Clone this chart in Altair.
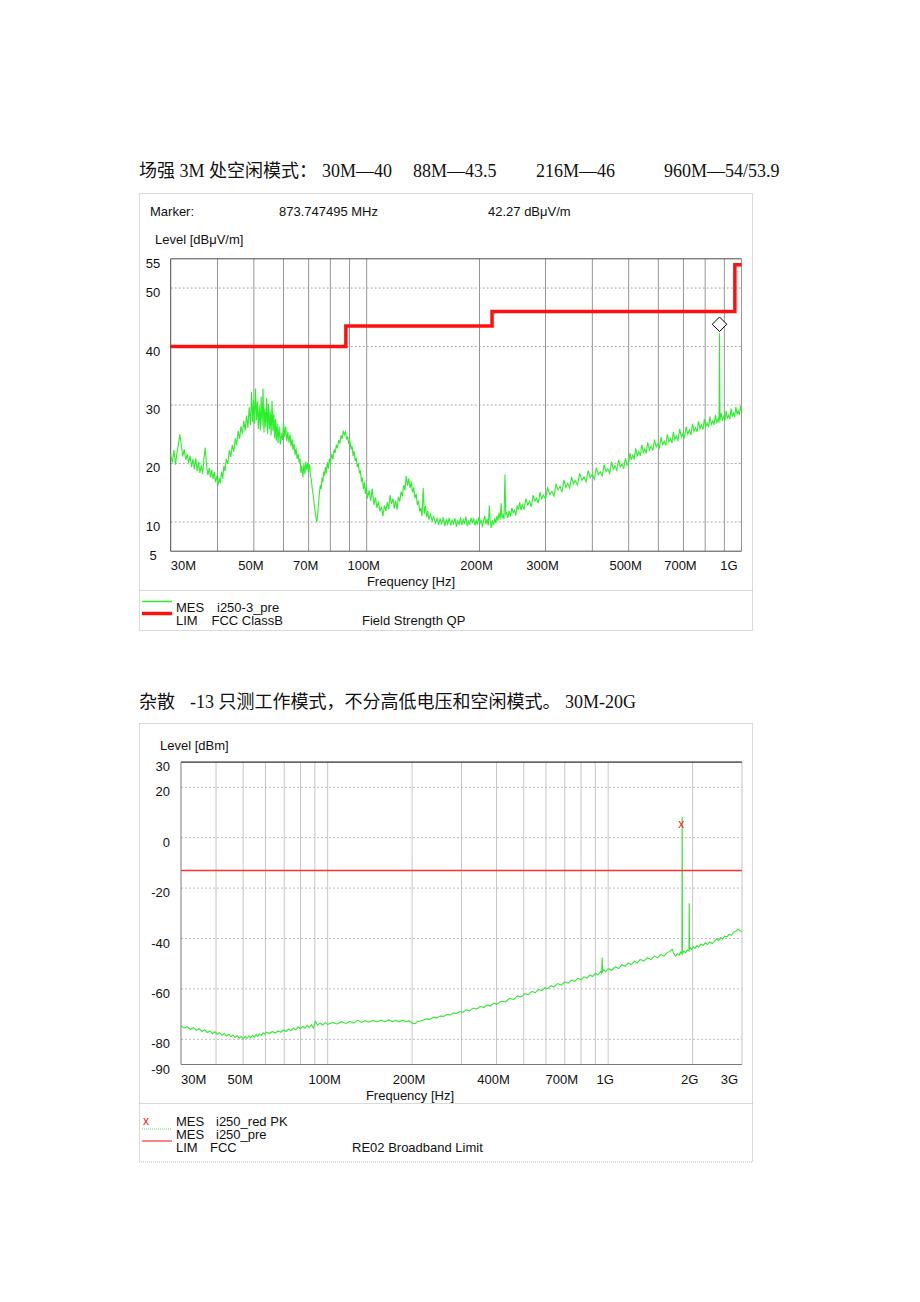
import altair as alt
import pandas as pd

# ------------------------------------------------------------------ data: chart 1 (field strength, dBuV/m)
trace1_points = [
    (30.0, 21.5), (30.3, 20.2), (30.6, 22.3), (30.9, 19.8), (31.2, 22.0), (31.5, 23.4), (31.7, 25.0),
    (32.0, 23.3), (32.3, 21.2), (32.6, 22.4), (32.9, 20.6), (33.2, 21.6), (33.5, 20.1), (33.8, 21.3),
    (34.1, 19.4), (34.4, 20.8), (34.7, 19.0), (35.0, 20.9), (35.3, 18.7), (35.6, 20.3), (35.9, 18.4),
    (36.2, 19.7), (36.5, 18.2), (36.8, 20.9), (37.1, 22.7), (37.4, 19.6), (37.7, 18.0), (38.0, 19.2),
    (38.3, 17.6), (38.6, 18.9), (38.9, 17.3), (39.2, 18.6), (39.5, 16.8), (39.8, 17.9), (40.1, 16.2),
    (40.4, 17.5), (40.7, 16.6), (41.0, 18.6), (41.3, 17.4), (41.6, 19.6), (41.9, 18.7), (42.2, 20.8),
    (42.6, 19.9), (43.0, 22.3), (43.4, 21.1), (43.8, 23.2), (44.2, 22.0), (44.6, 24.3), (45.0, 23.1),
    (45.4, 25.6), (45.8, 24.2), (46.2, 26.4), (46.6, 25.0), (47.0, 27.3), (47.4, 25.6), (47.8, 28.2),
    (48.2, 26.1), (48.6, 29.6), (49.0, 26.6), (49.3, 32.2), (49.6, 27.1), (49.9, 30.9), (50.2, 26.8),
    (50.5, 32.8), (50.8, 27.4), (51.1, 30.6), (51.4, 25.9), (51.7, 29.8), (52.0, 25.6), (52.3, 31.4),
    (52.6, 26.5), (52.9, 32.8), (53.2, 25.3), (53.5, 29.4), (53.8, 26.2), (54.1, 31.2), (54.4, 25.1),
    (54.7, 30.2), (55.0, 25.8), (55.3, 28.9), (55.6, 24.8), (55.9, 30.7), (56.2, 25.6), (56.5, 28.4),
    (56.8, 24.3), (57.1, 27.6), (57.4, 23.9), (57.7, 26.8), (58.0, 23.5), (58.4, 26.3), (58.8, 23.2),
    (59.2, 25.2), (59.6, 24.0), (60.0, 27.0), (60.4, 24.6), (60.8, 26.3), (61.2, 23.8), (61.6, 25.4),
    (62.0, 23.6), (62.4, 25.0), (62.8, 22.9), (63.2, 24.2), (63.6, 22.3), (64.0, 23.4), (64.4, 21.4),
    (64.8, 22.6), (65.2, 20.8), (65.6, 21.6), (66.0, 20.2), (66.4, 20.8), (66.8, 18.4), (67.2, 19.6),
    (67.6, 17.6), (68.0, 19.9), (68.4, 18.2), (68.8, 20.3), (69.2, 18.9), (69.6, 20.1), (70.0, 18.6),
    (70.4, 19.8), (70.8, 17.9), (71.2, 17.2), (71.6, 15.6), (72.0, 14.6), (72.4, 13.2), (72.8, 12.0),
    (73.2, 10.8), (73.6, 10.0), (74.0, 11.2), (74.4, 13.1), (74.8, 15.0), (75.2, 16.3), (75.6, 15.6),
    (76.0, 17.6), (76.4, 16.8), (76.8, 18.6), (77.2, 17.9), (77.6, 19.4), (78.0, 18.3), (78.5, 20.2),
    (79.0, 19.1), (79.5, 20.8), (80.0, 20.0), (80.6, 21.6), (81.2, 20.7), (81.8, 22.4), (82.4, 21.8),
    (83.0, 23.2), (83.6, 22.6), (84.2, 24.0), (84.8, 23.4), (85.4, 24.8), (86.0, 24.2), (86.6, 25.6),
    (87.2, 24.9), (87.8, 25.4), (88.4, 24.1), (89.0, 24.6), (89.6, 23.3), (90.2, 23.9), (90.8, 22.4),
    (91.4, 23.0), (92.0, 21.3), (92.6, 22.1), (93.2, 20.4), (93.8, 21.0), (94.4, 19.4), (95.0, 20.0),
    (95.6, 18.3), (96.2, 18.8), (96.8, 16.9), (97.4, 17.6), (98.0, 15.6), (98.6, 16.8), (99.2, 14.8),
    (99.8, 16.0), (100.5, 14.0), (101.5, 15.4), (102.5, 13.6), (103.5, 15.7), (104.5, 12.9), (105.5, 14.2),
    (106.5, 12.4), (107.5, 13.5), (108.5, 11.8), (109.5, 12.6), (110.5, 11.0), (111.5, 12.8), (112.5, 11.9),
    (113.5, 13.4), (114.5, 12.2), (115.5, 14.6), (116.5, 13.1), (117.5, 14.0), (118.5, 12.3), (119.5, 13.6),
    (120.5, 12.1), (121.5, 14.3), (122.5, 13.5), (123.5, 15.2), (124.5, 14.4), (125.5, 16.3), (126.5, 15.4),
    (127.5, 17.9), (128.5, 16.2), (129.5, 17.4), (130.5, 15.8), (131.5, 16.9), (132.5, 15.0), (133.5, 15.9),
    (134.5, 14.1), (135.5, 14.8), (136.5, 12.9), (137.5, 13.6), (138.5, 11.8), (139.5, 12.4), (140.5, 11.0),
    (141.5, 15.8), (142.5, 11.4), (143.5, 12.7), (144.5, 10.8), (145.5, 11.9), (146.5, 10.4), (148.0, 11.3),
    (149.5, 10.2), (151.0, 10.9), (152.5, 9.8), (154.0, 10.6), (155.5, 9.5), (157.0, 10.5), (158.5, 9.7),
    (160.0, 10.8), (161.5, 9.3), (163.0, 10.4), (164.5, 9.6), (166.0, 10.7), (167.5, 9.4), (169.0, 10.3),
    (170.5, 9.7), (172.0, 10.6), (173.5, 9.2), (175.0, 10.2), (176.5, 9.6), (178.0, 10.8), (179.5, 9.5),
    (181.0, 10.4), (182.5, 9.8), (184.0, 10.9), (185.5, 9.3), (187.0, 10.1), (188.5, 9.6), (190.0, 10.7),
    (191.5, 9.9), (193.0, 10.5), (194.5, 9.4), (196.0, 10.3), (197.5, 9.6), (199.0, 10.8), (200.5, 9.7),
    (202.0, 10.4), (203.5, 9.1), (205.0, 10.2), (206.5, 11.1), (208.0, 9.6), (209.5, 10.5), (211.0, 9.4),
    (212.5, 12.8), (213.5, 10.1), (215.0, 9.0), (216.5, 10.3), (218.0, 9.5), (219.5, 10.6), (221.0, 9.8),
    (222.5, 11.0), (224.0, 10.2), (225.5, 11.6), (227.0, 10.4), (228.5, 13.2), (229.5, 10.6), (231.0, 11.2),
    (232.5, 10.5), (233.8, 18.1), (235.0, 11.3), (236.5, 11.6), (238.0, 10.7), (240.0, 11.9), (242.0, 10.9),
    (244.0, 12.4), (246.0, 11.6), (248.0, 12.0), (250.0, 11.1), (252.0, 12.8), (254.0, 12.1), (256.0, 13.4),
    (258.0, 12.0), (260.0, 12.9), (263.0, 12.2), (266.0, 14.0), (269.0, 12.9), (272.0, 13.5), (275.0, 12.6),
    (278.0, 14.6), (281.0, 13.6), (284.0, 14.1), (287.0, 13.2), (290.0, 15.1), (293.0, 14.0), (296.0, 14.6),
    (300.0, 13.9), (304.0, 15.8), (308.0, 14.7), (312.0, 15.2), (316.0, 14.4), (320.0, 16.4), (324.0, 15.5),
    (328.0, 16.1), (332.0, 15.1), (336.0, 17.2), (340.0, 15.9), (344.0, 16.6), (348.0, 15.8), (352.0, 17.7),
    (356.0, 16.5), (360.0, 17.1), (365.0, 16.3), (370.0, 18.3), (375.0, 17.1), (380.0, 17.7), (385.0, 16.9),
    (390.0, 18.8), (395.0, 17.6), (400.0, 18.2), (405.0, 17.3), (410.0, 19.3), (415.0, 18.1), (420.0, 18.6),
    (425.0, 17.9), (430.0, 19.8), (435.0, 18.6), (440.0, 19.1), (445.0, 18.3), (450.0, 20.3), (455.0, 19.0),
    (460.0, 19.6), (465.0, 18.8), (470.0, 20.6), (475.0, 19.4), (480.0, 19.9), (485.0, 19.1), (490.0, 20.9),
    (495.0, 19.7), (500.0, 20.2), (504.0, 21.8), (508.0, 20.6), (512.0, 21.4), (517.0, 20.8), (522.0, 22.6),
    (527.0, 21.2), (532.0, 22.0), (537.0, 21.3), (542.0, 23.2), (547.0, 21.9), (552.0, 22.5), (557.0, 21.7),
    (562.0, 23.6), (568.0, 22.3), (574.0, 23.0), (580.0, 22.2), (586.0, 24.1), (592.0, 22.8), (598.0, 23.4),
    (604.0, 22.7), (610.0, 24.5), (616.0, 23.2), (622.0, 23.8), (628.0, 23.1), (634.0, 25.0), (640.0, 23.7),
    (646.0, 24.3), (652.0, 23.5), (658.0, 25.4), (664.0, 24.1), (670.0, 24.7), (677.0, 24.0), (684.0, 25.9),
    (691.0, 24.5), (698.0, 25.1), (705.0, 24.5), (712.0, 26.3), (719.0, 25.0), (726.0, 25.7), (733.0, 24.9),
    (740.0, 26.8), (747.0, 25.5), (754.0, 26.1), (761.0, 25.4), (768.0, 27.2), (775.0, 25.9), (782.0, 26.6),
    (789.0, 25.8), (796.0, 27.6), (803.0, 26.3), (810.0, 26.9), (817.0, 26.2), (824.0, 28.0), (831.0, 26.7),
    (838.0, 27.3), (845.0, 26.6), (852.0, 28.3), (859.0, 27.0), (866.0, 27.6), (871.0, 27.0), (873.7, 42.27),
    (876.0, 27.4), (882.0, 28.6), (889.0, 27.3), (896.0, 28.0), (903.0, 27.3), (910.0, 29.0), (917.0, 27.7),
    (924.0, 28.3), (931.0, 27.6), (938.0, 29.4), (945.0, 28.0), (952.0, 28.6), (959.0, 27.9), (966.0, 29.7),
    (973.0, 28.4), (980.0, 29.0), (987.0, 28.3), (994.0, 29.8), (1000.0, 29.0),
]
limit1_freq = [30, 88, 216, 960, 1000]
limit1_level = [40, 43.5, 46, 54, 54]
marker1_freq = [873.747495]
marker1_level = [42.27]
x1_tick_values = [30, 50, 70, 100, 200, 300, 500, 700, 1000]
x1_tick_labels = ["30M", "50M", "70M", "100M", "200M", "300M", "500M", "700M", "1G"]
x1_grid = [40, 50, 60, 70, 80, 90, 100, 200, 300, 400, 500, 600, 700, 800, 900]
y1_tick_values = [5, 10, 20, 30, 40, 50, 55]
y1_grid = [10, 20, 30, 40, 50]

# ------------------------------------------------------------------ data: chart 2 (spurious, dBm)
trace2_points = [
    (30.0, -74.6), (30.8, -75.6), (31.6, -75.0), (32.4, -76.1), (33.2, -75.4), (34.0, -76.4), (34.8, -75.8),
    (35.6, -76.9), (36.4, -76.2), (37.2, -77.3), (38.0, -76.7), (38.8, -77.7), (39.6, -77.0), (40.4, -78.0),
    (41.2, -77.4), (42.0, -78.4), (42.8, -77.7), (43.6, -78.7), (44.4, -78.0), (45.2, -79.0), (46.0, -78.3),
    (46.8, -79.3), (47.6, -78.5), (48.4, -79.6), (49.2, -78.8), (50.0, -79.8), (50.8, -78.9), (51.6, -79.6),
    (52.4, -78.7), (53.2, -79.4), (54.0, -78.4), (54.8, -79.1), (55.6, -78.1), (56.4, -78.8), (57.2, -77.8),
    (58.0, -78.5), (58.8, -77.4), (59.6, -78.0), (60.5, -77.2), (62.0, -77.7), (63.5, -76.9), (65.0, -77.5),
    (66.5, -76.7), (68.0, -77.2), (69.5, -76.3), (71.0, -76.9), (72.5, -75.9), (74.0, -76.6), (75.5, -75.6),
    (77.0, -76.2), (78.5, -75.1), (80.0, -75.8), (81.5, -74.9), (83.0, -75.6), (84.5, -74.5), (86.0, -75.4),
    (87.5, -74.2), (89.0, -75.6), (90.5, -72.8), (92.0, -74.4), (94.0, -73.6), (96.0, -74.3), (98.0, -73.4),
    (100.0, -74.1), (104.0, -73.3), (108.0, -73.9), (112.0, -73.0), (116.0, -73.7), (120.0, -72.9), (124.0, -73.6),
    (128.0, -72.4), (132.0, -73.3), (136.0, -72.6), (140.0, -73.2), (145.0, -72.5), (150.0, -73.1), (155.0, -72.4),
    (160.0, -73.0), (165.0, -72.3), (170.0, -73.0), (175.0, -72.5), (180.0, -73.1), (185.0, -72.4), (190.0, -73.0),
    (195.0, -72.6), (200.0, -73.5), (205.0, -73.8), (210.0, -72.9), (217.0, -72.6), (224.0, -71.9), (231.0, -72.1),
    (238.0, -71.3), (245.0, -71.5), (252.0, -70.8), (259.0, -70.9), (266.0, -70.2), (273.0, -70.3), (280.0, -69.6),
    (288.0, -69.7), (296.0, -69.0), (304.0, -69.3), (312.0, -68.2), (320.0, -68.7), (330.0, -67.6), (340.0, -68.0),
    (350.0, -66.9), (360.0, -67.4), (370.0, -66.3), (380.0, -66.8), (390.0, -65.7), (400.0, -66.1), (415.0, -64.9),
    (430.0, -65.2), (445.0, -63.8), (460.0, -64.2), (475.0, -62.8), (490.0, -63.2), (505.0, -61.9), (520.0, -62.3),
    (535.0, -61.0), (550.0, -61.5), (565.0, -60.2), (580.0, -60.7), (595.0, -59.5), (610.0, -59.9), (625.0, -58.7),
    (640.0, -59.2), (660.0, -57.9), (680.0, -58.5), (700.0, -57.2), (720.0, -57.7), (740.0, -56.5), (760.0, -57.0),
    (780.0, -55.8), (800.0, -56.4), (820.0, -55.2), (840.0, -55.8), (860.0, -54.5), (880.0, -55.1), (900.0, -53.9),
    (920.0, -54.4), (940.0, -53.1), (948.0, -53.8), (952.0, -47.5), (956.0, -53.1), (965.0, -52.4), (980.0, -53.2),
    (1000.0, -52.0), (1030.0, -52.6), (1060.0, -51.2), (1090.0, -51.9), (1120.0, -50.4), (1150.0, -51.0),
    (1180.0, -49.7), (1210.0, -50.4), (1240.0, -49.0), (1270.0, -49.7), (1300.0, -48.3), (1340.0, -49.0),
    (1380.0, -47.6), (1420.0, -48.4), (1460.0, -47.0), (1500.0, -47.7), (1540.0, -46.3), (1580.0, -47.1),
    (1620.0, -45.7), (1660.0, -45.0), (1690.0, -44.2), (1715.0, -46.0), (1740.0, -47.0), (1765.0, -46.0),
    (1790.0, -46.6), (1815.0, -45.4), (1832.0, -46.1), (1836.0, 8.2), (1840.0, -45.9), (1865.0, -45.0),
    (1890.0, -45.7), (1915.0, -44.6), (1941.0, -45.0), (1945.0, -26.0), (1949.0, -44.3), (1965.0, -43.7),
    (1985.0, -44.4), (2010.0, -43.3), (2040.0, -43.9), (2070.0, -42.8), (2100.0, -43.4), (2140.0, -42.2),
    (2180.0, -42.8), (2220.0, -41.7), (2260.0, -42.4), (2300.0, -41.4), (2350.0, -42.0), (2400.0, -40.9),
    (2440.0, -40.1), (2480.0, -40.8), (2520.0, -39.6), (2560.0, -40.2), (2600.0, -39.1), (2650.0, -39.4),
    (2700.0, -38.4), (2750.0, -38.7), (2800.0, -37.5), (2850.0, -37.2), (2900.0, -36.2), (2950.0, -36.9),
    (3000.0, -37.3),
]
limit2_freq = [30, 3000]
limit2_level = [-13, -13]
marker2_freq = [1822]
marker2_level = [5.5]
x2_tick_values = [30, 50, 100, 200, 400, 700, 1000, 2000, 3000]
x2_tick_labels = ["30M", "50M", "100M", "200M", "400M", "700M", "1G", "2G", "3G"]
x2_grid = [40, 50, 60, 70, 80, 90, 100, 200, 300, 400, 500, 600, 700, 800, 900, 1000, 2000]
y2_tick_values = [30, 20, 0, -20, -40, -60, -80, -90]
y2_grid = [20, 0, -20, -40, -60, -80]

# ------------------------------------------------------------------ style / layout
SANS = "'Liberation Sans', Arial, sans-serif"
SERIF = "'Liberation Serif', 'Noto Sans CJK SC', serif"
GREEN = "#2cee2c"
GREEN2 = "#33e633"
RED = "#ff1010"
ONE = pd.DataFrame({"k": [0]})

# plot areas in page pixels
P1 = dict(l=170.7, r=741.5, b=551.2, t=258.8)
P2 = dict(l=181.0, r=742.0, b=1064.5, t=762.1)

xs1 = alt.Scale(type="log", domain=[30, 1000], range=[P1["l"], P1["r"]], nice=False)
ys1 = alt.Scale(type="linear", domain=[5, 55], range=[P1["b"], P1["t"]], nice=False, zero=False)
xs2 = alt.Scale(type="log", domain=[30, 3000], range=[P2["l"], P2["r"]], nice=False)
ys2 = alt.Scale(type="linear", domain=[-90, 30], range=[P2["b"], P2["t"]], nice=False, zero=False)


def txt(s, x, y, size=13, align="left", color="#111111", font=SANS):
    return alt.Chart(ONE).mark_text(
        text=s, align=align, baseline="middle", fontSize=size, font=font, color=color
    ).encode(x=alt.value(x), y=alt.value(y))


def hline(x1, x2, y, color, width=1.0, dash=None):
    kw = dict(color=color, strokeWidth=width)
    if dash:
        kw["strokeDash"] = dash
    return alt.Chart(ONE).mark_rule(**kw).encode(x=alt.value(x1), x2=alt.value(x2), y=alt.value(y))


def vline(x, y1, y2, color, width=1.0, dash=None):
    kw = dict(color=color, strokeWidth=width)
    if dash:
        kw["strokeDash"] = dash
    return alt.Chart(ONE).mark_rule(**kw).encode(x=alt.value(x), y=alt.value(y1), y2=alt.value(y2))


def frame(x1, x2, y1, y2, color="#b4b4b4"):
    return alt.Chart(ONE).mark_rect(
        fill="transparent", stroke=color, strokeWidth=1, strokeDash=[1, 1]
    ).encode(x=alt.value(x1), x2=alt.value(x2), y=alt.value(y1), y2=alt.value(y2))


def panel(P, xs, ys, trace_pts, xgrid, ygrid, xticks, xlabels, yticks, vcol, hcol, ylab_x, ylab_align,
          xlab_y, border):
    tr = pd.DataFrame(trace_pts, columns=["f", "v"])
    gx = pd.DataFrame({"f": xgrid})
    gy = pd.DataFrame({"v": ygrid})
    yt = pd.DataFrame({"v": yticks, "lab": [str(v) for v in yticks]})
    xt = pd.DataFrame({"f": xticks, "lab": xlabels, "i": list(range(len(xticks)))})
    n = len(xticks) - 1
    X = lambda: alt.X("f:Q", scale=xs, axis=None)
    Y = lambda: alt.Y("v:Q", scale=ys, axis=None)
    layers = [
        alt.Chart(gx).mark_rule(color=vcol, strokeWidth=1).encode(
            x=X(), y=alt.value(P["t"]), y2=alt.value(P["b"])),
        alt.Chart(gy).mark_rule(color=hcol, strokeWidth=1, strokeDash=[2, 2]).encode(
            y=Y(), x=alt.value(P["l"]), x2=alt.value(P["r"])),
        # plot border
        vline(P["r"], P["t"], P["b"], border[1]),
        hline(P["l"], P["r"], P["b"], border[0]),
        hline(P["l"], P["r"], P["t"], border[0]),
        vline(P["l"], P["t"], P["b"], border[0]),
        # y tick labels
        alt.Chart(yt).mark_text(align=ylab_align, baseline="middle", dy=5, fontSize=13, font=SANS,
                                color="#111111").encode(y=Y(), x=alt.value(ylab_x), text="lab:N"),
        # x tick labels (first/last flush with the plot edges)
        alt.Chart(xt).transform_filter(alt.datum.i == 0).mark_text(
            align="left", baseline="middle", fontSize=13, font=SANS, color="#111111").encode(
            x=X(), y=alt.value(xlab_y), text="lab:N"),
        alt.Chart(xt).transform_filter((alt.datum.i > 0) & (alt.datum.i < n)).mark_text(
            align="center", baseline="middle", dx=-3, fontSize=13, font=SANS, color="#111111").encode(
            x=X(), y=alt.value(xlab_y), text="lab:N"),
        alt.Chart(xt).transform_filter(alt.datum.i == n).mark_text(
            align="right", baseline="middle", dx=-4, fontSize=13, font=SANS, color="#111111").encode(
            x=X(), y=alt.value(xlab_y), text="lab:N"),
    ]
    return layers, tr, X, Y


# ---------------- panel 1
l1, tr1, X1, Y1 = panel(P1, xs1, ys1, trace1_points, x1_grid, y1_grid, x1_tick_values, x1_tick_labels,
                        y1_tick_values, "#969696", "#a8a8a8", 153, "center", 566, ("#4a4a4a", "#969696"))
lim1 = pd.DataFrame({"f": limit1_freq, "v": limit1_level})
mk1 = pd.DataFrame({"f": marker1_freq, "v": marker1_level})
l1 += [
    alt.Chart(tr1).mark_line(color=GREEN, strokeWidth=1.1).encode(x=X1(), y=Y1()),
    alt.Chart(lim1).mark_line(color=RED, strokeWidth=3.5, interpolate="step-after").encode(x=X1(), y=Y1()),
    alt.Chart(mk1).mark_point(shape="diamond", size=210, filled=True, fill="white", stroke="#000000",
                              strokeWidth=1, opacity=1, yOffset=-9).encode(x=X1(), y=Y1()),
]
panel1 = alt.layer(*l1)

# ---------------- panel 2
l2, tr2, X2, Y2 = panel(P2, xs2, ys2, trace2_points, x2_grid, y2_grid, x2_tick_values, x2_tick_labels,
                        y2_tick_values, "#c6c6c6", "#bcbcbc", 170, "right", 1080, ("#7a7a7a", "#c6c6c6"))
lim2 = pd.DataFrame({"f": limit2_freq, "v": limit2_level})
mk2 = pd.DataFrame({"f": marker2_freq, "v": marker2_level})
l2 += [
    hline(P2["l"], P2["r"], P2["t"], "#3a3a3a"),
    alt.Chart(tr2).mark_line(color=GREEN2, strokeWidth=1.1).encode(x=X2(), y=Y2()),
    alt.Chart(lim2).mark_line(color="#ff3030", strokeWidth=1.4).encode(x=X2(), y=Y2()),
    alt.Chart(mk2).mark_text(text="x", color="#ff2020", fontSize=12, font=SANS, baseline="middle",
                             align="center").encode(x=X2(), y=Y2()),
]
panel2 = alt.layer(*l2)

# ---------------- page decoration: titles, frames, header and legend texts
deco = [
    # title 1
    txt("场强 3M 处空闲模式：", 139, 172, 18, font=SERIF),
    txt("30M—40", 322, 172, 18, font=SERIF),
    txt("88M—43.5", 413, 172, 18, font=SERIF),
    txt("216M—46", 536, 172, 18, font=SERIF),
    txt("960M—54/53.9", 664, 172, 18, font=SERIF),
    # frame 1
    frame(139.5, 752.5, 193.5, 630.5),
    hline(139.5, 752.5, 590.5, "#b4b4b4", 1, [1, 1]),
    txt("Marker:", 150, 212),
    txt("873.747495 MHz", 279, 212),
    txt("42.27 dBμV/m", 488, 212),
    txt("Level [dBμV/m]", 155, 240),
    txt("Frequency [Hz]", 411, 582, align="center"),
    hline(142, 172, 601.5, GREEN, 1.5),
    hline(142, 172, 613.5, RED, 3.5),
    txt("MES", 176, 608),
    txt("i250-3_pre", 217, 608),
    txt("LIM", 176, 620.5),
    txt("FCC ClassB", 211.5, 620.5),
    txt("Field Strength QP", 362, 621),
    # title 2
    txt("杂散", 139, 703, 18, font=SERIF),
    txt("-13 只测工作模式，不分高低电压和空闲模式。", 190, 703, 18, font=SERIF),
    txt("30M-20G", 565, 703, 18, font=SERIF),
    # frame 2
    frame(139.5, 752.5, 723.5, 1162),
    hline(139.5, 752.5, 1103.5, "#b4b4b4", 1, [1, 1]),
    txt("Level [dBm]", 160, 746),
    txt("Frequency [Hz]", 410, 1096, align="center"),
    txt("x", 146, 1121, 12, align="center", color="#ff2020"),
    hline(142, 172, 1129, "#66dd66", 1, [1, 1]),
    hline(142, 172, 1141, "#ff4040", 1.3),
    txt("MES", 176, 1122),
    txt("i250_red PK", 216, 1122),
    txt("MES", 176, 1135),
    txt("i250_pre", 216, 1135),
    txt("LIM", 176, 1148),
    txt("FCC", 210, 1148),
    txt("RE02 Broadband Limit", 352, 1148),
]

chart = alt.layer(*deco, panel1, panel2).resolve_scale(
    x="independent", y="independent"
).properties(
    width=915, height=1290, padding=0, autosize=alt.AutoSizeParams(type="none"), background="white"
).configure_view(strokeWidth=0)

chart.save("out.html", embed_options={"renderer": "svg", "actions": False})
